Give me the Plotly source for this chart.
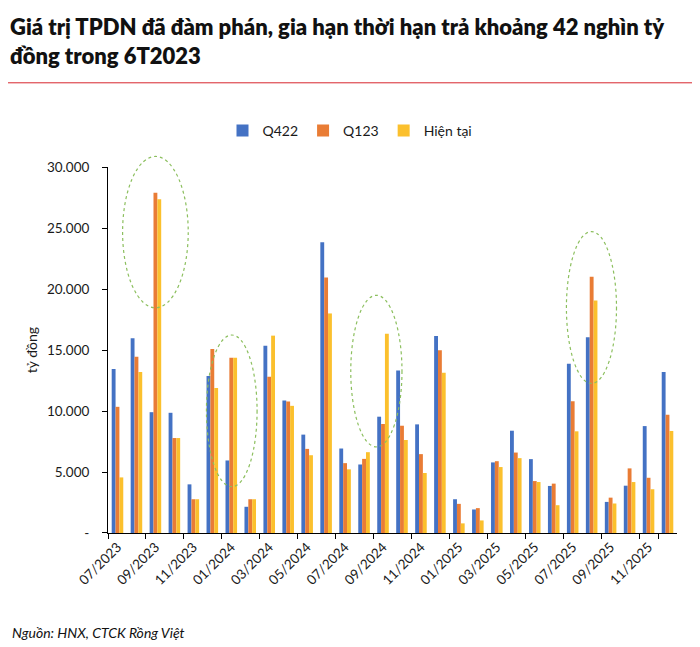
import plotly.graph_objects as go

months = ["07/2023", "08/2023", "09/2023", "10/2023", "11/2023", "12/2023",
          "01/2024", "02/2024", "03/2024", "04/2024", "05/2024", "06/2024",
          "07/2024", "08/2024", "09/2024", "10/2024", "11/2024", "12/2024",
          "01/2025", "02/2025", "03/2025", "04/2025", "05/2025", "06/2025",
          "07/2025", "08/2025", "09/2025", "10/2025", "11/2025", "12/2025"]

q422 = [13450, 15970, 9910, 9860, 3990, 12880, 5950, 2150, 15370, 10870,
        8070, 23850, 6930, 5620, 9540, 13340, 8910, 16160, 2770, 1930,
        5790, 8390, 6060, 3860, 13880, 16060, 2550, 3880, 8770, 13200]
q123 = [10350, 14450, 27920, 7790, 2770, 15100, 14370, 2770, 12820, 10790,
        6900, 20950, 5730, 6080, 8940, 8800, 6470, 15000, 2390, 2040,
        5890, 6600, 4260, 4050, 10810, 21030, 2900, 5300, 4530, 9700]
hien_tai = [4560, 13200, 27380, 7790, 2770, 11900, 14370, 2770, 16190, 10430,
            6380, 18010, 5220, 6630, 16350, 7630, 4920, 13150, 790, 1030,
            5410, 6140, 4180, 2280, 8340, 19070, 2420, 4180, 3590, 8370]

series_names = ["Q422", "Q123", "Hiện tại"]
series_colors = ["#4472C4", "#E97C35", "#FBC02D"]

y_tick_vals = [0, 5000, 10000, 15000, 20000, 25000, 30000]
y_tick_text = ["-", "5.000", "10.000", "15.000", "20.000", "25.000", "30.000"]
x_tick_vals = months[::2]

# highlighted regions: (category index from, to, value from, to)
ellipses = [(0.27, 3.73, 18470, 30890),
            (4.69, 7.36, 3800, 16240),
            (12.3, 15.0, 7060, 19500),
            (23.67, 26.31, 12270, 24720)]

Y_MAX = 30000
OFF = 8  # page offset of the figure inside the window
W, H = 700 - OFF, 647 - OFF
ML, MR, MT, MB = 108 - OFF, 23, 165 - OFF, 114
FONT = "Lato"

fig = go.Figure()
for name, vals, col in zip(series_names, [q422, q123, hien_tai], series_colors):
    fig.add_trace(go.Bar(x=months, y=vals, name=name, marker_color=col,
                         marker_line_width=0))

pw = W - ML - MR
ph = H - MT - MB


def px_x(p):  # window pixel -> paper x
    return (p - OFF - ML) / pw


def px_y(p):  # window pixel -> paper y
    return (H - MB - (p - OFF)) / ph


shapes = []
for x0, x1, y0, y1 in ellipses:
    shapes.append(dict(type="circle", xref="x", yref="y domain",
                       x0=x0, x1=x1, y0=y0 / Y_MAX, y1=y1 / Y_MAX,
                       line=dict(color="#8CBF5E", width=1.2, dash="dot")))
shapes.append(dict(type="line", xref="paper", yref="paper",
                   x0=px_x(OFF), x1=px_x(700),
                   y0=px_y(80), y1=px_y(80),
                   line=dict(color="#D7262E", width=1)))

fig.update_layout(
    width=W, height=H,
    margin=dict(l=ML, r=MR, t=MT, b=MB),
    paper_bgcolor="white", plot_bgcolor="white",
    font=dict(family=FONT, size=13, color="#1a1a1a"),
    barmode="group", bargap=0.39, bargroupgap=0,
    title=dict(text="Giá trị TPDN đã đàm phán, gia hạn thời hạn trả khoảng 42 nghìn tỷ<br>đồng trong 6T2023",
               xref="container", yref="container", x=2 / W, xanchor="left",
               y=1 - 27 / H, yanchor="top",
               font=dict(family=FONT, size=22, weight=800, color="#111111")),
    legend=dict(orientation="h", xref="container", yref="container",
                x=(350 - OFF) / W, xanchor="center", y=1 - (131 - OFF) / H,
                yanchor="middle",
                font=dict(size=14), itemwidth=30, traceorder="normal"),
    shapes=shapes,
    annotations=[dict(text="<i>Nguồn: HNX, CTCK Rồng Việt</i>", xref="paper", yref="paper",
                      x=px_x(10), xanchor="left",
                      y=px_y(633), yanchor="middle", showarrow=False,
                      font=dict(size=14, color="#111111"))],
)
fig.update_xaxes(type="category", tickmode="array", tickvals=x_tick_vals,
                 tickangle=-45, tickson="boundaries",
                 showline=True, linecolor="black", linewidth=1,
                 ticks="outside", ticklen=5, tickcolor="black",
                 showgrid=False, tickfont=dict(size=13.5))
fig.update_yaxes(range=[0, Y_MAX], tickmode="array", tickvals=y_tick_vals,
                 ticktext=y_tick_text, showline=True, linecolor="black",
                 linewidth=1, ticks="outside", ticklen=5, tickcolor="black",
                 showgrid=False, zeroline=False, ticklabelstandoff=10,
                 title=dict(text="tỷ đồng", standoff=6, font=dict(size=14)),
                 tickfont=dict(size=13.5))

fig.write_html("out.html")
